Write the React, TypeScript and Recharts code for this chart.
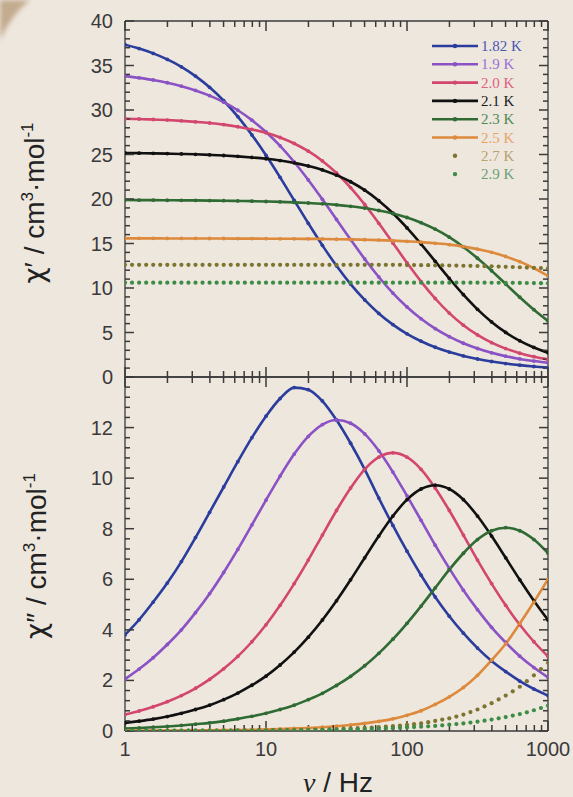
import React from 'react';
import { LineChart, Line, XAxis, YAxis, ReferenceLine } from 'recharts';

// frequencies (Hz), 10 points per decade
const freq = [1, 1.259, 1.585, 1.995, 2.512, 3.162, 3.981, 5.012, 6.31, 7.943, 10, 12.59, 15.85, 19.95, 25.12, 31.62, 39.81, 50.12, 63.1, 79.43, 100, 125.9, 158.5, 199.5, 251.2, 316.2, 398.1, 501.2, 631, 794.3, 1000];
// denser grid for the dot-only sets (2.7 K, 2.9 K)
const freqDense = [1, 1.122, 1.259, 1.413, 1.585, 1.778, 1.995, 2.239, 2.512, 2.818, 3.162, 3.548, 3.981, 4.467, 5.012, 5.623, 6.31, 7.079, 7.943, 8.913, 10, 11.22, 12.59, 14.13, 15.85, 17.78, 19.95, 22.39, 25.12, 28.18, 31.62, 35.48, 39.81, 44.67, 50.12, 56.23, 63.1, 70.79, 79.43, 89.13, 100, 112.2, 125.9, 141.3, 158.5, 177.8, 199.5, 223.9, 251.2, 281.8, 316.2, 354.8, 398.1, 446.7, 501.2, 562.3, 631, 707.9, 794.3, 891.3, 1000];

const temps = ['1.82 K', '1.9 K', '2.0 K', '2.1 K', '2.3 K', '2.5 K', '2.7 K', '2.9 K'];
const colors = ['#2b3d9c', '#8a52c4', '#d3466e', '#111111', '#2f6b33', '#dd8a3c', '#7d7430', '#3d8c45'];
const legendText = ['#4a56b4', '#9b6fd2', '#e0607f', '#1a1a1a', '#4f8a55', '#e6a468', '#b7a36c', '#6aa078'];
const hasLine = [true, true, true, true, true, true, false, false];

// chi' (in-phase)
const chiP_182 = [37.33, 36.9, 36.36, 35.68, 34.85, 33.81, 32.55, 31.04, 29.26, 27.2, 24.91, 22.43, 19.85, 17.27, 14.79, 12.5, 10.44, 8.66, 7.14, 5.89, 4.85, 4.02, 3.34, 2.8, 2.37, 2.02, 1.74, 1.51, 1.33, 1.18, 1.06];
const chiP_19 = [33.81, 33.61, 33.37, 33.06, 32.68, 32.2, 31.61, 30.88, 29.97, 28.86, 27.53, 25.97, 24.16, 22.14, 19.96, 17.7, 15.44, 13.26, 11.24, 9.43, 7.87, 6.54, 5.43, 4.53, 3.79, 3.2, 2.72, 2.34, 2.03, 1.79, 1.59];
const chiP_20 = [29.02, 28.99, 28.93, 28.87, 28.78, 28.67, 28.54, 28.36, 28.12, 27.82, 27.43, 26.91, 26.24, 25.37, 24.28, 22.92, 21.28, 19.38, 17.27, 15.05, 12.83, 10.72, 8.82, 7.18, 5.82, 4.73, 3.86, 3.19, 2.67, 2.28, 1.98];
const chiP_21 = [25.17, 25.15, 25.13, 25.1, 25.06, 25.02, 24.96, 24.89, 24.79, 24.67, 24.52, 24.32, 24.06, 23.71, 23.27, 22.68, 21.94, 20.99, 19.81, 18.4, 16.75, 14.93, 13.0, 11.07, 9.25, 7.6, 6.19, 5.01, 4.06, 3.32, 2.73];
const chiP_23 = [19.88, 19.87, 19.87, 19.86, 19.85, 19.84, 19.82, 19.81, 19.78, 19.76, 19.72, 19.68, 19.62, 19.55, 19.46, 19.34, 19.18, 18.98, 18.71, 18.37, 17.92, 17.34, 16.61, 15.71, 14.61, 13.34, 11.94, 10.45, 8.96, 7.56, 6.29];
const chiP_25 = [15.58, 15.58, 15.58, 15.57, 15.57, 15.57, 15.56, 15.56, 15.55, 15.55, 15.54, 15.53, 15.53, 15.52, 15.51, 15.48, 15.46, 15.42, 15.38, 15.32, 15.24, 15.15, 15.02, 14.87, 14.65, 14.37, 14.01, 13.54, 12.96, 12.23, 11.35];
const chiP_27 = [12.6, 12.6, 12.6, 12.6, 12.6, 12.6, 12.6, 12.6, 12.6, 12.6, 12.6, 12.6, 12.6, 12.6, 12.6, 12.6, 12.6, 12.6, 12.6, 12.6, 12.6, 12.6, 12.6, 12.6, 12.6, 12.6, 12.6, 12.6, 12.6, 12.6, 12.6, 12.6, 12.6, 12.6, 12.6, 12.6, 12.6, 12.6, 12.6, 12.6, 12.58, 12.58, 12.57, 12.56, 12.55, 12.54, 12.53, 12.52, 12.5, 12.49, 12.47, 12.45, 12.43, 12.41, 12.38, 12.36, 12.33, 12.3, 12.27, 12.24, 12.2];
const chiP_29 = [10.6, 10.6, 10.6, 10.6, 10.6, 10.6, 10.6, 10.6, 10.6, 10.6, 10.6, 10.6, 10.6, 10.6, 10.6, 10.6, 10.6, 10.6, 10.6, 10.6, 10.6, 10.6, 10.6, 10.6, 10.6, 10.6, 10.6, 10.6, 10.6, 10.6, 10.6, 10.6, 10.6, 10.6, 10.6, 10.6, 10.6, 10.6, 10.6, 10.6, 10.6, 10.6, 10.6, 10.6, 10.6, 10.6, 10.6, 10.6, 10.6, 10.6, 10.6, 10.6, 10.59, 10.59, 10.58, 10.58, 10.57, 10.56, 10.55, 10.54, 10.52];

// chi'' (out-of-phase)
const chiPP_182 = [3.8, 4.4, 5.1, 5.85, 6.7, 7.65, 8.65, 9.65, 10.65, 11.6, 12.45, 13.15, 13.58, 13.5, 13.05, 12.3, 11.38, 10.35, 9.21, 8.13, 7.11, 6.16, 5.3, 4.54, 3.87, 3.28, 2.77, 2.35, 1.97, 1.66, 1.4];
const chiPP_19 = [2.05, 2.45, 2.9, 3.42, 4.0, 4.68, 5.43, 6.27, 7.18, 8.15, 9.13, 10.08, 10.95, 11.65, 12.12, 12.3, 12.17, 11.75, 11.08, 10.24, 9.3, 8.33, 7.35, 6.43, 5.57, 4.8, 4.1, 3.5, 2.96, 2.51, 2.12];
const chiPP_20 = [0.65, 0.79, 0.96, 1.16, 1.4, 1.69, 2.04, 2.46, 2.95, 3.53, 4.2, 4.97, 5.83, 6.76, 7.75, 8.72, 9.61, 10.35, 10.83, 11.0, 10.83, 10.35, 9.61, 8.72, 7.75, 6.76, 5.83, 4.97, 4.2, 3.53, 2.95];
const chiPP_21 = [0.32, 0.39, 0.47, 0.57, 0.7, 0.85, 1.02, 1.24, 1.5, 1.81, 2.17, 2.61, 3.12, 3.71, 4.39, 5.15, 5.98, 6.85, 7.71, 8.5, 9.15, 9.57, 9.72, 9.57, 9.15, 8.5, 7.71, 6.85, 5.98, 5.15, 4.39];
const chiPP_23 = [0.1, 0.12, 0.15, 0.18, 0.22, 0.27, 0.32, 0.39, 0.48, 0.58, 0.7, 0.85, 1.02, 1.24, 1.49, 1.8, 2.16, 2.58, 3.07, 3.63, 4.26, 4.94, 5.66, 6.38, 7.03, 7.57, 7.92, 8.04, 7.92, 7.57, 7.03];
const chiPP_25 = [0.01, 0.01, 0.015, 0.02, 0.02, 0.025, 0.03, 0.035, 0.04, 0.05, 0.065, 0.08, 0.1, 0.12, 0.15, 0.19, 0.24, 0.3, 0.38, 0.48, 0.62, 0.8, 1.05, 1.35, 1.72, 2.2, 2.8, 3.45, 4.25, 5.1, 6.0];
const chiPP_27 = [0.01, 0.01, 0.01, 0.01, 0.01, 0.01, 0.01, 0.01, 0.01, 0.012, 0.015, 0.015, 0.015, 0.018, 0.02, 0.02, 0.02, 0.022, 0.025, 0.028, 0.03, 0.032, 0.035, 0.04, 0.04, 0.045, 0.05, 0.055, 0.06, 0.07, 0.08, 0.09, 0.1, 0.11, 0.12, 0.135, 0.15, 0.17, 0.19, 0.215, 0.24, 0.27, 0.3, 0.35, 0.4, 0.45, 0.5, 0.57, 0.65, 0.75, 0.85, 0.97, 1.1, 1.25, 1.4, 1.57, 1.75, 1.97, 2.2, 2.45, 2.7];
const chiPP_29 = [0.01, 0.01, 0.01, 0.01, 0.01, 0.01, 0.01, 0.011, 0.012, 0.013, 0.014, 0.015, 0.015, 0.016, 0.017, 0.018, 0.019, 0.02, 0.02, 0.02, 0.02, 0.022, 0.025, 0.027, 0.03, 0.032, 0.035, 0.037, 0.04, 0.045, 0.05, 0.055, 0.06, 0.067, 0.075, 0.082, 0.09, 0.1, 0.11, 0.125, 0.14, 0.155, 0.17, 0.185, 0.2, 0.225, 0.25, 0.275, 0.3, 0.335, 0.37, 0.41, 0.45, 0.5, 0.55, 0.61, 0.67, 0.74, 0.82, 0.91, 1.0];

const chiP = [chiP_182, chiP_19, chiP_20, chiP_21, chiP_23, chiP_25, chiP_27, chiP_29];
const chiPP = [chiPP_182, chiPP_19, chiPP_20, chiPP_21, chiPP_23, chiPP_25, chiPP_27, chiPP_29];

const xMajor = [1, 10, 100, 1000];
const xTicks = [1, 2, 3, 4, 5, 6, 7, 8, 9, 10, 20, 30, 40, 50, 60, 70, 80, 90, 100, 200, 300, 400, 500, 600, 700, 800, 900, 1000];
const topTicks = Array.from({ length: 41 }, (_, i) => i);
const botTicks = Array.from({ length: 36 }, (_, i) => Math.round(i * 4) / 10);

const bg = '#eee7de';
const axisCol = '#3a3a3a';
const font = '"Liberation Sans", Arial, sans-serif';

// one data set per series, on its own frequency grid
const toSeries = (sets: number[][]) =>
  sets.map((s, k) => {
    const fs = hasLine[k] ? freq : freqDense;
    return fs.map((f, i) => ({ f, v: s[i] }));
  });

const seriesP = toSeries(chiP);
const seriesPP = toSeries(chiPP);

const xLabel = (labels: boolean) => (p: any) => {
  const v = p.payload.value;
  if (!labels || !xMajor.includes(v)) return <g />;
  return <text x={p.x} y={p.y + 25} textAnchor="middle" fontSize={20} fontFamily={font} fill="#3a3a3a">{v}</text>;
};

const isMajor = (v: number, every: number) => Math.abs(v / every - Math.round(v / every)) < 1e-6;

const yLabel = (every: number, maxLabel: number) => (p: any) => {
  const v = p.payload.value;
  if (!isMajor(v, every) || v > maxLabel) return <g />;
  return <text x={p.x - 12} y={p.y + 7} textAnchor="end" fontSize={20} fontFamily={font} fill="#3a3a3a">{v}</text>;
};

const al = { stroke: axisCol, strokeWidth: 1.3 };

// inward tick marks, placed through the chart's own scales
function tickMarks(domain: number[], ticks: number[], every: number, pxPerUnit: number) {
  const [y0, y1] = domain;
  const out: any[] = [];
  xTicks.forEach((v) => {
    const len = (xMajor.includes(v) ? 10 : 6) / pxPerUnit;
    out.push(<ReferenceLine key={'xb' + v} xAxisId="b" yAxisId="l" ifOverflow="visible" segment={[{ x: v, y: y0 }, { x: v, y: y0 + len }]} stroke={axisCol} strokeWidth={1.5} />);
    out.push(<ReferenceLine key={'xt' + v} xAxisId="b" yAxisId="l" ifOverflow="visible" segment={[{ x: v, y: y1 }, { x: v, y: y1 - len }]} stroke={axisCol} strokeWidth={1.5} />);
  });
  ticks.forEach((v) => {
    const f = Math.pow(10, (isMajor(v, every) ? 9 : 5) / 141);
    out.push(<ReferenceLine key={'yl' + v} xAxisId="b" yAxisId="l" ifOverflow="visible" segment={[{ x: 1, y: v }, { x: f, y: v }]} stroke={axisCol} strokeWidth={1.5} />);
    out.push(<ReferenceLine key={'yr' + v} xAxisId="b" yAxisId="l" ifOverflow="visible" segment={[{ x: 1000 / f, y: v }, { x: 1000, y: v }]} stroke={axisCol} strokeWidth={1.5} />);
  });
  return out;
}

function Panel({ series, domain, ticks, every, maxLabel, top, height, margin, bottomLabels, pxPerUnit }: any) {
  return (
    <div style={{ position: 'absolute', left: 0, top }}>
      <LineChart width={573} height={height} margin={margin}>
        <XAxis xAxisId="b" dataKey="f" type="number" scale="log" domain={[1, 1000]} ticks={xTicks} interval={0}
          orientation="bottom" height={bottomLabels ? 66 : 13} tickLine={false} tickSize={0} tickMargin={0}
          axisLine={al} tick={xLabel(bottomLabels)} allowDataOverflow />
        <XAxis xAxisId="t" dataKey="f" type="number" scale="log" domain={[1, 1000]} ticks={xMajor}
          orientation="top" height={1} tickLine={false} axisLine={al} tick={false} allowDataOverflow />
        <YAxis yAxisId="l" type="number" domain={domain} ticks={ticks} interval={0} width={125}
          tickLine={false} tickSize={0} tickMargin={0} axisLine={al}
          tick={yLabel(every, maxLabel)} allowDataOverflow />
        <YAxis yAxisId="r" orientation="right" type="number" domain={domain} width={1}
          tickLine={false} axisLine={al} tick={false} allowDataOverflow />
        {temps.map((t, k) => (
          <Line key={t} xAxisId="b" yAxisId="l" type="monotone" data={series[k]} dataKey="v" name={t}
            stroke={hasLine[k] ? colors[k] : 'none'} strokeWidth={2.6}
            dot={{ r: hasLine[k] ? 1.9 : 2.1, fill: colors[k], stroke: 'none' }}
            isAnimationActive={false} />
        ))}
        {tickMarks(domain, ticks, every, pxPerUnit)}
      </LineChart>
    </div>
  );
}

function Legend() {
  return (
    <svg width={573} height={200} style={{ position: 'absolute', left: 0, top: 0 }}>
      {temps.map((t, k) => {
        const y = 46 + k * 18.3;
        return (
          <g key={t}>
            {hasLine[k] && <line x1={432} x2={478} y1={y} y2={y} stroke={colors[k]} strokeWidth={2.6} />}
            <circle cx={455} cy={y} r={2.2} fill={colors[k]} />
            <text x={481} y={y + 5} fontSize={15} fontFamily='"Liberation Serif", "Times New Roman", serif' fill={legendText[k]}>{t}</text>
          </g>
        );
      })}
    </svg>
  );
}

const chi = { fontFamily: '"DejaVu Sans", sans-serif' };

export default function App() {
  return (
    <div style={{ position: 'absolute', left: 0, top: 0, width: 573, height: 797, background: bg, overflow: 'hidden', fontFamily: font }}>
      <svg width={60} height={60} style={{ position: 'absolute', left: 0, top: 0 }}>
        <defs>
          <filter id="blur"><feGaussianBlur stdDeviation="2.5" /></filter>
        </defs>
        <path d="M0,0 L30,0 Q12,14 0,40 Z" fill="#c2ab8e" filter="url(#blur)" />
      </svg>
      <Panel series={seriesP} domain={[0, 40]} ticks={topTicks} every={5} maxLabel={40} top={0} height={390}
        margin={{ top: 20, right: 24, bottom: 0, left: 0 }} bottomLabels={false} pxPerUnit={8.9} />
      <Panel series={seriesPP} domain={[0, 14]} ticks={botTicks} every={2} maxLabel={12} top={367} height={430}
        margin={{ top: 9, right: 24, bottom: 0, left: 0 }} bottomLabels={true} pxPerUnit={25.3} />
      <Legend />
      <div style={{ position: 'absolute', left: 34, top: 203, transform: 'translate(-50%, -50%) rotate(-90deg)', whiteSpace: 'nowrap', fontSize: 28, color: '#222' }}>
        <span style={chi}>χ</span>′ / cm<sup style={{ fontSize: 17 }}>3</sup>·mol<sup style={{ fontSize: 17 }}>-1</sup>
      </div>
      <div style={{ position: 'absolute', left: 36, top: 556, transform: 'translate(-50%, -50%) rotate(-90deg)', whiteSpace: 'nowrap', fontSize: 28, color: '#222' }}>
        <span style={chi}>χ</span>″ / cm<sup style={{ fontSize: 17 }}>3</sup>·mol<sup style={{ fontSize: 17 }}>-1</sup>
      </div>
      <div style={{ position: 'absolute', left: 338, top: 783, transform: 'translate(-50%, -50%)', whiteSpace: 'nowrap', fontSize: 28, color: '#222' }}>
        <span style={{ fontFamily: '"Liberation Serif", serif', fontStyle: 'italic' }}>ν</span> / Hz
      </div>
    </div>
  );
}
